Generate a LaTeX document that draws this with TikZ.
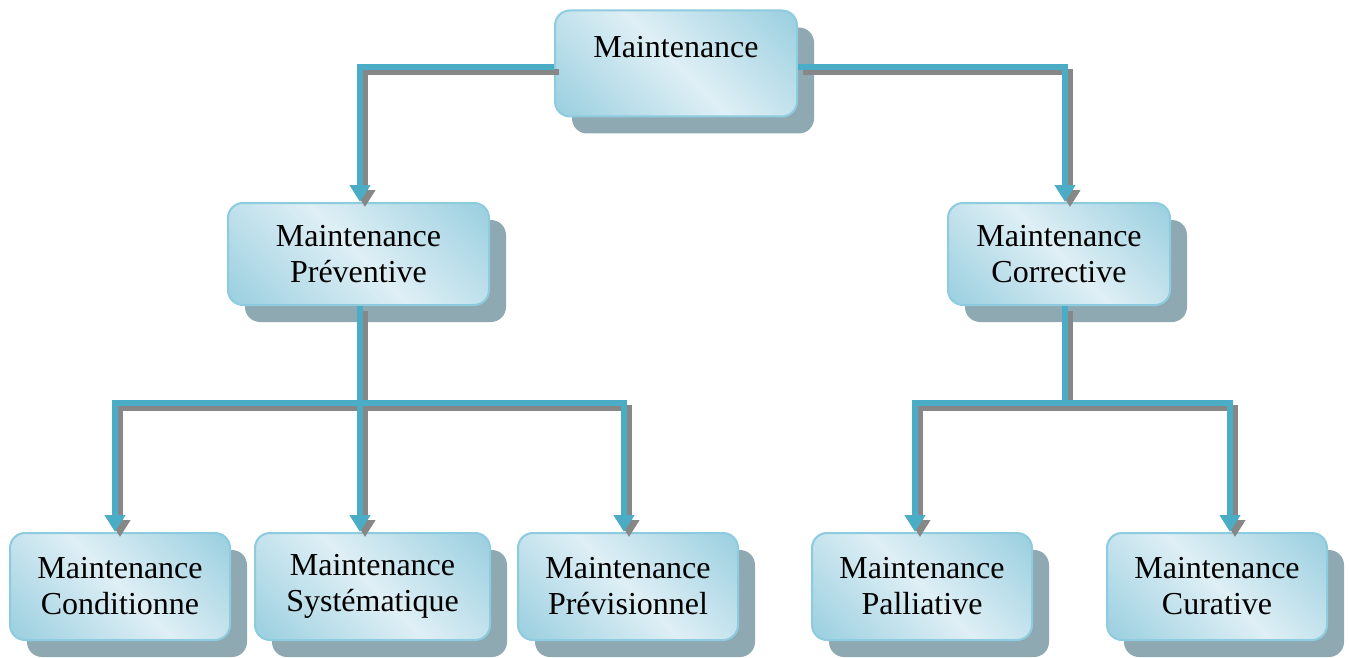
\documentclass[tikz,border=0pt]{standalone}
\usepackage{fontspec}
\setmainfont{Liberation Serif}
\usetikzlibrary{shadows,arrows.meta,calc}
\definecolor{boxdark}{HTML}{94CCDE}
\definecolor{boxlight}{HTML}{DFEFF5}
\definecolor{boxborder}{HTML}{8DCBDE}
\definecolor{boxshadow}{HTML}{8FA9B2}
\definecolor{connblue}{HTML}{4BACC6}
\definecolor{conngray}{HTML}{878787}
\pgfdeclareverticalshading{boxshade}{100bp}{color(0bp)=(boxdark); color(12bp)=(boxdark); color(50bp)=(boxlight); color(88bp)=(boxdark); color(100bp)=(boxdark)}
\begin{document}
\begin{tikzpicture}[x=1pt,y=-1pt,
  box/.style={draw=boxborder, line width=2pt, rounded corners=15pt,
    shading=boxshade, shading angle=-45,
    minimum height=106pt, align=center, inner sep=0pt,
    font=\fontsize{32}{36}\selectfont,
    drop shadow={shadow xshift=17pt, shadow yshift=-17pt, fill=boxshadow, opacity=1}},
  connplain/.style={draw=connblue, line width=6pt,
    preaction={draw=conngray, line width=6pt, transform canvas={shift={(5pt,-5pt)}}}},
  conn/.style={connplain, -{Triangle[width=20pt,length=17pt]}}
]
\useasboundingbox (0,0) rectangle (1349,658);

\node[box, minimum width=242pt, text depth=34pt] (t) at (676,63.5) {Maintenance};
\node[box, minimum width=261pt, minimum height=102pt] (pv) at (358.5,254) {Maintenance\\Préventive};
\node[box, minimum width=222pt, minimum height=102pt] (pc) at (1059,254) {Maintenance\\Corrective};
\node[box, minimum width=220pt, minimum height=107pt] (b1) at (120,586.5) {Maintenance\\Conditionne};
\node[box, minimum width=235pt, minimum height=107pt] (b2) at (372.5,586.5) {Maintenance\\Systématique};
\node[box, minimum width=220pt, minimum height=107pt] (b3) at (628,586.5) {Maintenance\\Prévisionnel};
\node[box, minimum width=220pt, minimum height=107pt] (b4) at (922,586.5) {Maintenance\\Palliative};
\node[box, minimum width=220pt, minimum height=107pt] (b5) at (1217,586.5) {Maintenance\\Curative};

\draw[conn] ([yshift=-4pt]t.west) -| ([xshift=1.5pt]pv.north);
\draw[conn] ([yshift=-4pt]t.east) -| ([xshift=6pt]pc.north);

\coordinate (jv) at (360,403);
\draw[connplain] ([xshift=1.5pt]pv.south) -- (jv);
\draw[conn] (jv) -| ([xshift=-5pt]b1.north);
\draw[conn] (jv) -- (jv |- b2.north);
\draw[conn] (jv) -| ([xshift=-4pt]b3.north);

\coordinate (jc) at (1065,403);
\draw[connplain] ([xshift=6pt]pc.south) -- (jc);
\draw[conn] (jc) -| ([xshift=-7pt]b4.north);
\draw[conn] (jc) -| ([xshift=13pt]b5.north);
\end{tikzpicture}
\end{document}
